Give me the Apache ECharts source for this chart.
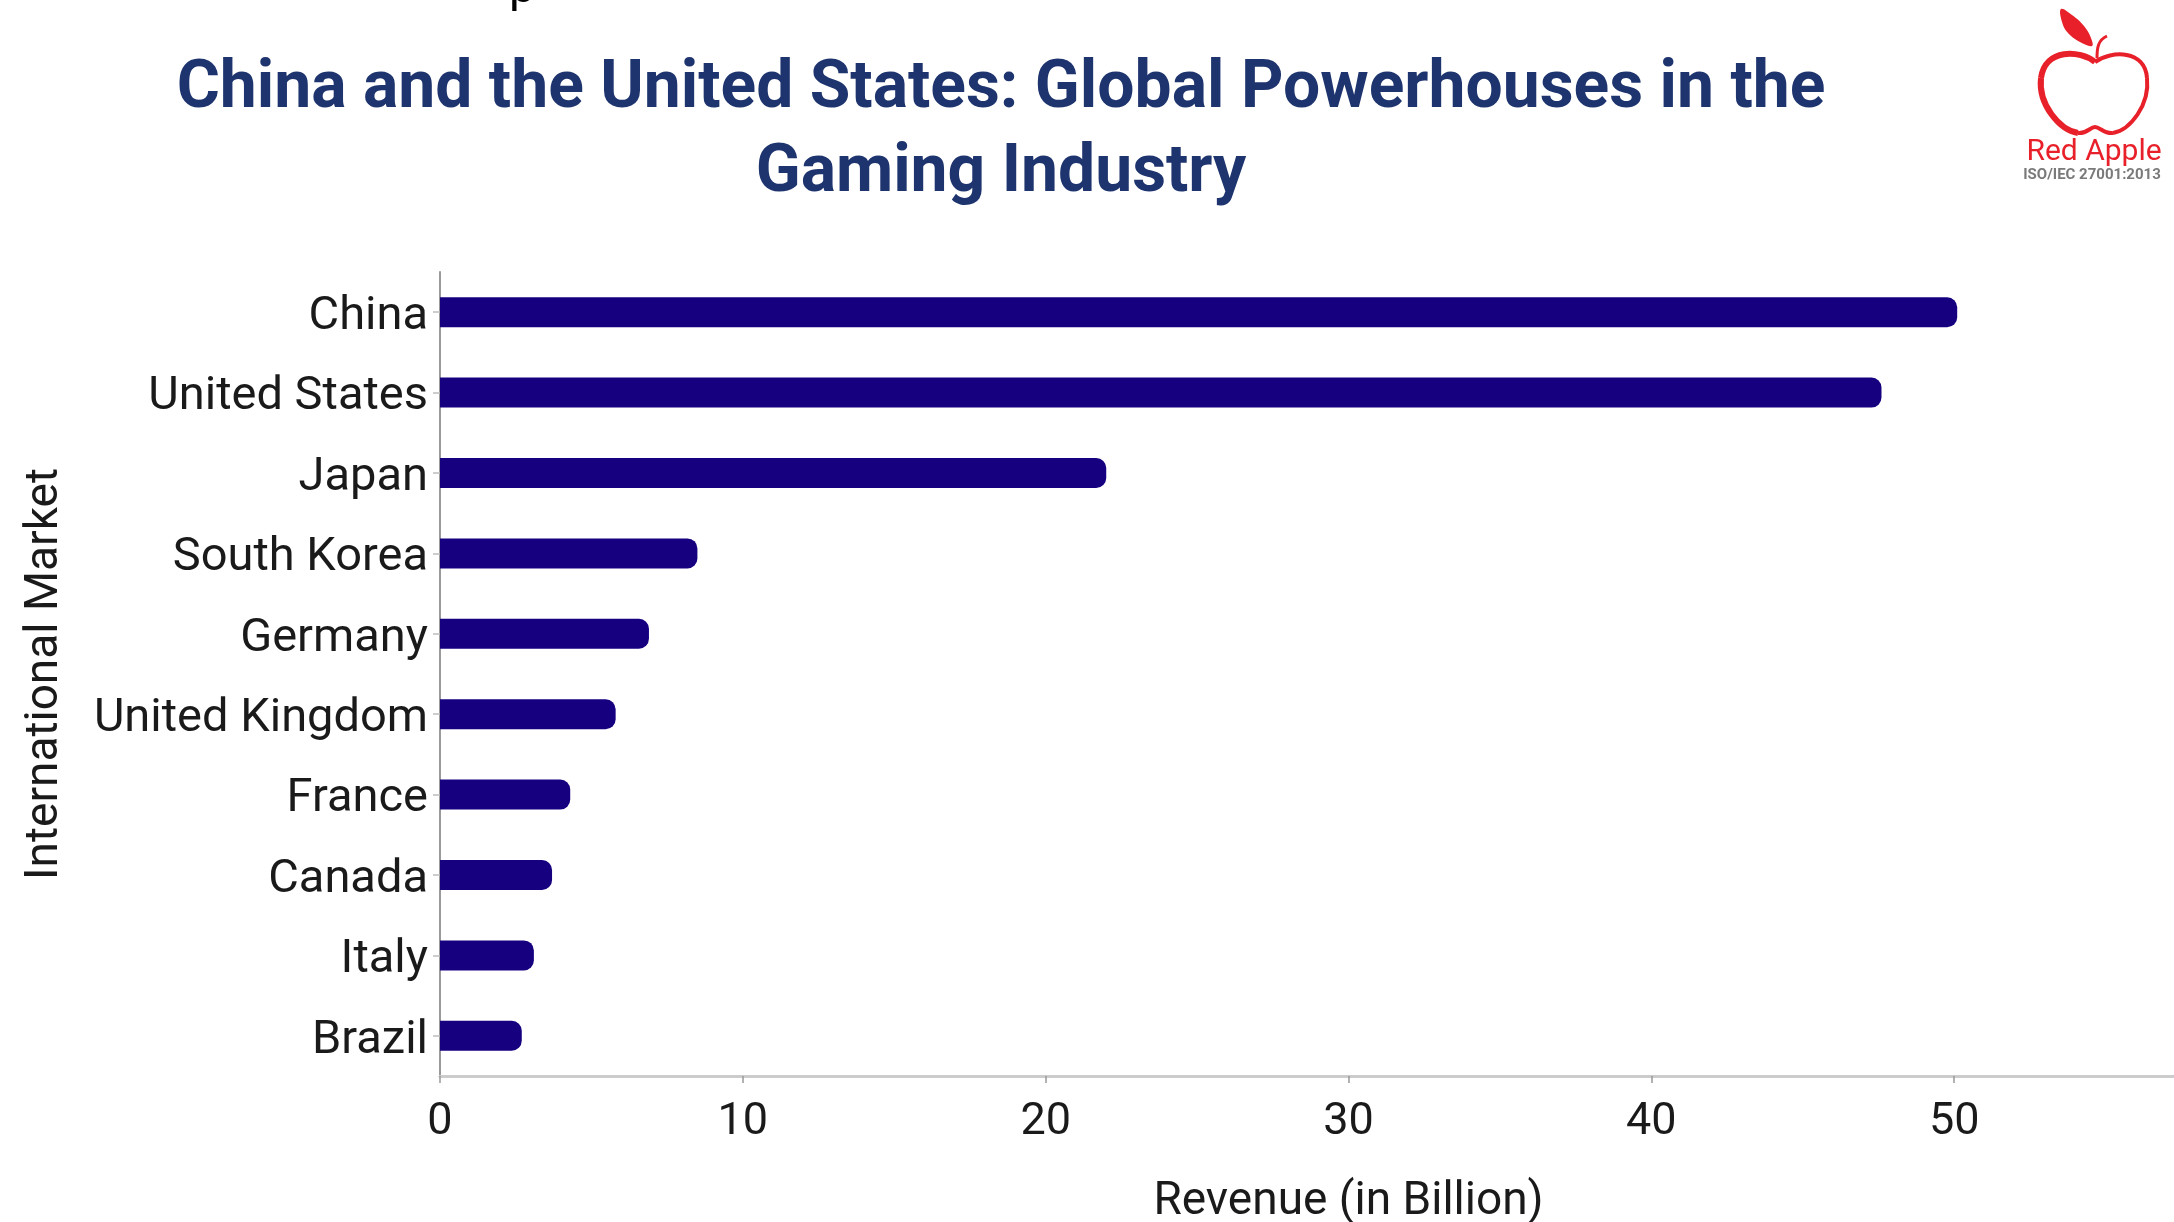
<!DOCTYPE html>
<html>
<head>
<meta charset="utf-8">
<title>Gaming Industry Revenue by Market</title>
<script src="https://cdn.jsdelivr.net/npm/echarts@6/dist/echarts.min.js"></script>
<style>
  html, body { margin: 0; padding: 0; background: #ffffff; }
  #chart { width: 2174px; height: 1222px; }
</style>
</head>
<body>
<div id="chart"></div>
<script>
// International gaming markets, revenue in billions
const markets = ['China', 'United States', 'Japan', 'South Korea', 'Germany',
                 'United Kingdom', 'France', 'Canada', 'Italy', 'Brazil'];
const revenue = [50.1, 47.6, 22.0, 8.5, 6.9, 5.8, 4.3, 3.7, 3.1, 2.7];

const titleText = 'China and the United States: Global Powerhouses in the\nGaming Industry';
const xAxisName = 'Revenue (in Billion)';
const yAxisName = 'International Market';

const FONT = 'Roboto, "Noto Sans", sans-serif';
const BAR = '#160080';
const LOGO_RED = '#e8202a';

// apple outline as cubic segments: [x1, y1, cpx1, cpy1, cpx2, cpy2, x2, y2]
const appleCurves = [
  [95, 62, 80, 50, 45, 48, 41, 78],
  [41, 78, 38, 105, 60, 130, 78, 133],
  [78, 133, 87, 134, 90, 127, 95, 127],
  [95, 127, 100, 127, 104, 134, 113, 133],
  [113, 133, 130, 130, 150, 105, 147, 78],
  [147, 78, 145, 50, 112, 50, 95, 62]
];

function appleChildren(ox, oy) {
  const kids = appleCurves.map(function (c, i) {
    return {
      type: 'bezierCurve',
      shape: { x1: ox + c[0], y1: oy + c[1], cpx1: ox + c[2], cpy1: oy + c[3],
               cpx2: ox + c[4], cpy2: oy + c[5], x2: ox + c[6], y2: oy + c[7] },
      style: { stroke: LOGO_RED, lineWidth: i < 2 ? 6 : 4, fill: null }
    };
  });
  kids.push({
    type: 'polygon',
    shape: {
      points: [[ox + 61, oy + 9], [ox + 72, oy + 15], [ox + 84, oy + 26], [ox + 91, oy + 38],
               [ox + 92, oy + 46], [ox + 80, oy + 42], [ox + 68, oy + 33], [ox + 62, oy + 22]],
      smooth: 0.4
    },
    style: { fill: LOGO_RED }
  });
  kids.push({
    type: 'bezierCurve',
    shape: { x1: ox + 97, y1: oy + 58, cpx1: ox + 97, cpy1: oy + 48,
             cpx2: ox + 98, cpy2: oy + 40, x2: ox + 107, y2: oy + 36 },
    style: { stroke: LOGO_RED, lineWidth: 3, fill: null }
  });
  kids.push({
    type: 'text', x: ox + 94, y: oy + 152,
    style: { text: 'Red Apple', font: '30px ' + FONT, fill: LOGO_RED,
             align: 'center', verticalAlign: 'middle' }
  });
  kids.push({
    type: 'text', x: ox + 92, y: oy + 175,
    style: { text: 'ISO/IEC 27001:2013', font: 'bold 15px ' + FONT, fill: '#7a7a7a',
             align: 'center', verticalAlign: 'middle' }
  });
  return kids;
}

const chart = echarts.init(document.getElementById('chart'), null, { renderer: 'canvas' });

chart.setOption({
  backgroundColor: '#ffffff',
  animation: false,
  title: {
    text: titleText,
    left: 1001,
    top: 48,
    padding: 0,
    textAlign: 'center',
    textStyle: {
      fontFamily: FONT,
      fontSize: 66,
      fontWeight: 'bold',
      lineHeight: 84,
      color: '#1e346e'
    }
  },
  grid: {
    left: 440,
    top: 272,
    width: 1817,
    bottom: 146,
    containLabel: false,
    outerBoundsMode: 'none'
  },
  xAxis: {
    type: 'value',
    min: 0,
    max: 60,
    interval: 10,
    name: xAxisName,
    nameLocation: 'middle',
    nameGap: 103,
    nameTextStyle: { fontFamily: FONT, fontSize: 46, color: '#1a1a1a' },
    axisLine: { show: true, lineStyle: { color: '#cccccc', width: 3 } },
    axisTick: { show: true, length: 7, lineStyle: { color: '#999999', width: 1.5 } },
    axisLabel: { fontFamily: FONT, fontSize: 45, color: '#1a1a1a', margin: 24 },
    splitLine: { show: false }
  },
  yAxis: {
    type: 'category',
    inverse: true,
    data: markets,
    name: yAxisName,
    nameLocation: 'middle',
    nameRotate: 90,
    nameGap: 372,
    nameTextStyle: { fontFamily: FONT, fontSize: 46, color: '#1a1a1a' },
    axisLine: { show: true, lineStyle: { color: '#9a9a9a', width: 2 } },
    axisTick: { show: true, alignWithLabel: true, length: 7, lineStyle: { color: '#bdbdbd', width: 1.5 } },
    axisLabel: {
      margin: 12,
      formatter: function (v) { return '{m|' + v + '}'; },
      rich: {
        m: { fontFamily: FONT, fontSize: 47, color: '#1a1a1a', padding: [10, 0, 0, 0] }
      }
    },
    splitLine: { show: false }
  },
  series: [{
    type: 'bar',
    data: revenue,
    barWidth: 30,
    itemStyle: { color: BAR, borderRadius: [0, 10, 10, 0] },
    z: 1
  }],
  graphic: {
    elements: [
      // descender of a line of text sitting just above the frame
      {
        type: 'text', x: 509, y: -33,
        style: { text: 'p', font: '47px ' + FONT, fill: '#000000' }
      },
      // company mark, top right
      {
        type: 'group', x: 2000, y: 0,
        children: appleChildren(0, 0)
      }
    ]
  }
});
</script>
</body>
</html>
